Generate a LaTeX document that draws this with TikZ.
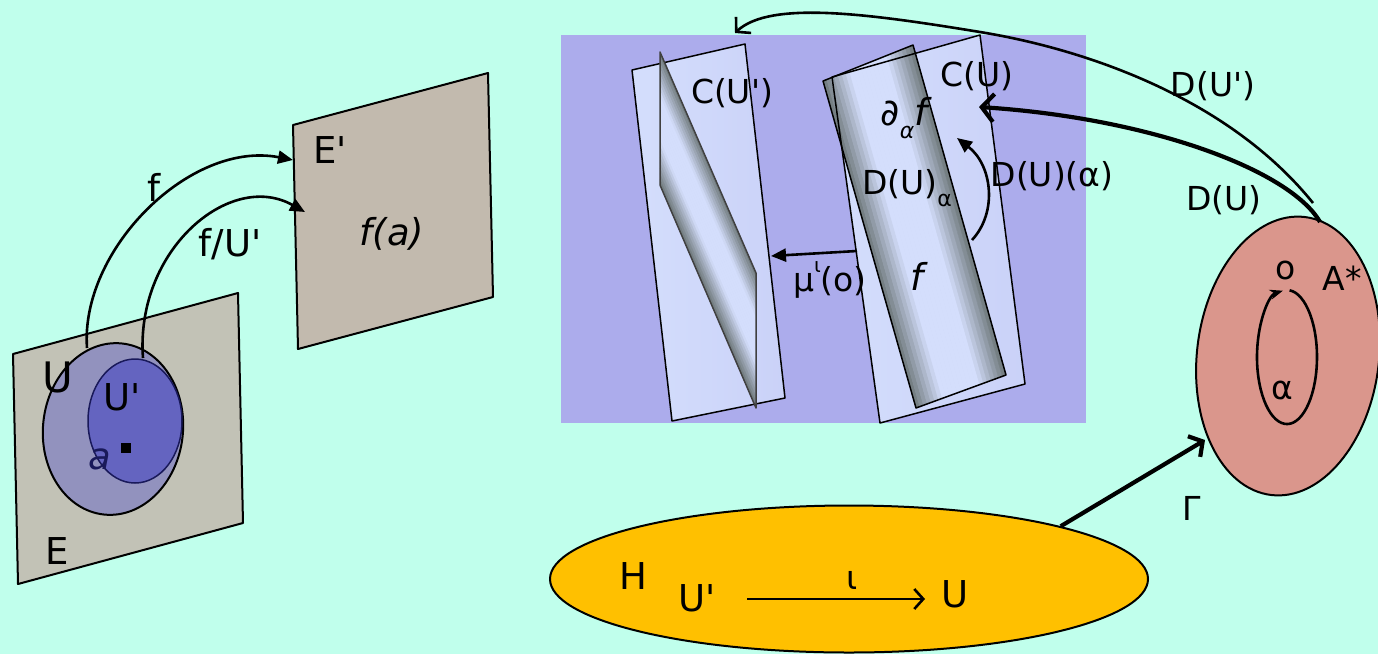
\documentclass[tikz,border=0pt]{standalone}
\usepackage{fontspec}
\setmainfont{DejaVu Sans}
\usetikzlibrary{arrows.meta,shapes.geometric,calc}
\definecolor{bg}{RGB}{192,255,236}
\definecolor{planeE}{RGB}{194,194,182}
\definecolor{planeEp}{RGB}{194,186,174}
\definecolor{ucol}{RGB}{146,146,190}
\definecolor{upcol}{RGB}{100,100,192}
\definecolor{navy}{RGB}{25,25,90}
\definecolor{purp}{RGB}{172,172,236}
\definecolor{pan}{RGB}{212,222,252}
\definecolor{sdark}{RGB}{110,120,122}
\definecolor{hyel}{RGB}{255,192,0}
\definecolor{salmon}{RGB}{218,150,140}
\newcommand{\qs}{\textquotesingle}
\newcommand{\mysub}[1]{\raisebox{-0.35em}{\fontsize{22}{22}\selectfont #1}}
\newcommand{\mysup}[1]{\raisebox{0.55em}{\fontsize{20}{20}\selectfont #1}}
\begin{document}
\begin{tikzpicture}[x=1pt,y=-1pt,line join=round,
  lbl/.style={font=\fontsize{33}{38}\selectfont, inner sep=0pt},
  biglbl/.style={font=\fontsize{37}{41}\selectfont, inner sep=0pt},
  edge/.style={draw=black, line width=2pt},
  conn/.style={draw=black, line width=2.6pt},
  heavy/.style={draw=black, line width=4.2pt},
  tri/.style={-{Triangle[length=15pt,width=13pt]}},
  barb/.style={-{Straight Barb[length=10pt,width=22pt]}}
]
\fill[bg] (0,0) rectangle (1378,654);
\useasboundingbox (0,0) rectangle (1378,654);

% ---------- left: E and E'
\filldraw[fill=planeE, edge] (13,354) -- (238,293) -- (243,523) -- (18,584) -- cycle;
\filldraw[fill=planeEp, edge] (293,125) -- (488,73) -- (493,297) -- (298,349) -- cycle;
\filldraw[fill=ucol, edge, rotate around={-6:(113,429)}] (113,429) ellipse [x radius=70, y radius=86];
\filldraw[fill=upcol, draw=navy, line width=1.5pt] (135,421) ellipse [x radius=47, y radius=62];
\fill[black] (121,443) rectangle (131,453);

\coordinate (fS) at (87,348);  \coordinate (fE) at (293,160);
\coordinate (gS) at (143,358); \coordinate (gE) at (305,212);
\draw[conn, tri] (fS) .. controls (80,250) and (190,140) .. (fE);
\draw[conn, tri] (gS) .. controls (135,250) and (230,170) .. (gE);

\node[font=\fontsize{42}{46}\selectfont, inner sep=0pt] (tU) at (58,377) {U};
\node[biglbl] (tUp) at (122,397) {U\qs};
\node[biglbl, text=navy] (ta) at (100,459) {\itshape a};
\node[biglbl] (tE) at (57,551) {E};
\node[biglbl] (tEp) at (330,150) {E\qs};
\node[biglbl] (tfa) at (392,234) {\itshape f(a)};
\node[biglbl] (tf) at (154,187) {f};
\node[biglbl] (tfU) at (230,244) {f/U\qs};

% ---------- purple panel
\fill[purp] (561,35) rectangle (1086,423);

% C(U') panel
\draw[edge, line width=1.5pt, left color=pan, right color=pan!75!purp] (632,70) -- (745,44) -- (785,398) -- (672,421) -- cycle;
\coordinate (T1) at (660,52);  \coordinate (T2) at (756,273);
\coordinate (B1) at (660,185); \coordinate (B2) at (756,408);
\foreach \k in {0,...,23} {
  \pgfmathsetmacro\ta{\k/24}
  \pgfmathsetmacro\tb{(\k+1)/24}
  \pgfmathsetmacro\tm{(\k+0.5)/24}
  \pgfmathsetmacro\p{min(100,300*min(\tm,1-\tm))}
  \filldraw[fill=pan!\p!sdark, draw=pan!\p!sdark, line width=0.4pt]
    ($(T1)!\ta!(B1)$) -- ($(T2)!\ta!(B2)$) -- ($(T2)!\tb!(B2)$) -- ($(T1)!\tb!(B1)$) -- cycle;
}
\draw[draw=black!75, line width=1.5pt] (T1) -- (T2) -- (B2) -- (B1) -- cycle;

% C(U) panel
\fill[left color=pan, right color=pan!75!purp] (832,77) -- (980,35) -- (1025,384) -- (880,423) -- cycle;
\coordinate (fA) at (823,81);  \coordinate (fB) at (913,45);
\coordinate (fC) at (1006,375); \coordinate (fD) at (916,408);
\foreach \k in {0,...,23} {
  \pgfmathsetmacro\ta{\k/24}
  \pgfmathsetmacro\tb{(\k+1)/24}
  \pgfmathsetmacro\tm{(\k+0.5)/24}
  \pgfmathsetmacro\p{min(100,330*min(\tm,1-\tm))}
  \filldraw[fill=pan!\p!sdark, draw=pan!\p!sdark, line width=0.4pt]
    ($(fA)!\ta!(fB)$) -- ($(fA)!\tb!(fB)$) -- ($(fD)!\tb!(fC)$) -- ($(fD)!\ta!(fC)$) -- cycle;
}
\draw[draw=black, line width=1.5pt] (fA) -- (fB) -- (fC) -- (fD) -- cycle;
\draw[edge, line width=1.5pt] (832,77) -- (980,35) -- (1025,384) -- (880,423) -- cycle;

% arrows inside panel
\coordinate (mS) at (857,251); \coordinate (mE) at (771,256);
\draw[conn, tri] (mS) -- (mE);
\coordinate (dS) at (972,240); \coordinate (dE) at (957,138);
\draw[conn, tri] (dS) .. controls (998,212) and (992,165) .. (dE);

\node[lbl] (tCUp) at (732,93) {C(U\qs)};
\node[lbl] (tCU) at (977,76) {C(U)};
\node[font=\fontsize{37}{41}\selectfont, inner sep=0pt] (tdf) at (904,118) {\itshape ∂\/\mysub{\itshape α}f};
\node[lbl] (tDa) at (907,188) {D(U)\mysub{α}};
\node[lbl] (tDal) at (1052,176) {D(U)(α)};
\node[lbl] (tmu) at (830,280) {μ\mysup{ι}(o)};
\node[biglbl] (tff) at (917,276) {\itshape f};

% ---------- right: A* ellipse
\filldraw[fill=salmon, edge, rotate around={-7:(1288,356)}] (1288,356) ellipse [x radius=91, y radius=140];
\draw[conn, -{Stealth[length=13pt,width=10pt]}] (1289.6,290.3) arc[start angle=-85, end angle=262, x radius=30, y radius=67];
\node[lbl] (to) at (1286,270) {o};
\node[lbl] (tA) at (1342,278) {A*};
\node[lbl] (tal) at (1282,390) {α};

\coordinate (duS) at (1320,222); \coordinate (duE) at (979,107);
\draw[heavy, -{Straight Barb[length=12pt,width=28pt]}] (duS) .. controls (1290,170) and (1150,118) .. (duE);
\coordinate (dpS) at (1313,203); \coordinate (dpM) at (980,32); \coordinate (dpE) at (735,33);
\draw[conn, barb] (dpS) .. controls (1230,100) and (1090,50) .. (dpM) .. controls (870,14) and (770,0) .. (dpE);
\node[lbl] (tDUp) at (1213,86) {D(U\qs)};
\node[lbl] (tDU) at (1224,200) {D(U)};

% ---------- H ellipse
\node[ellipse, draw=black, line width=2pt, fill=hyel, minimum width=598pt, minimum height=147pt, inner sep=0pt] (Hell) at (849,579) {};
\node[biglbl] (tH) at (633,576) {H};
\node[biglbl] (tHUp) at (697,598) {U\qs};
\node[biglbl] (tHU) at (955,594) {U};
\coordinate (iS) at (747,599); \coordinate (iE) at (925,599);
\draw[conn, -{Straight Barb[length=9pt,width=20pt]}] (iS) -- (iE);
\node[lbl] (tio) at (852,580) {ι};

\coordinate (gamE) at (1205,440);
\draw[heavy, -{Straight Barb[length=10pt,width=24pt]}] (Hell.14) -- (gamE);
\node[lbl] (tG) at (1192,508) {Γ};
\end{tikzpicture}
\end{document}
